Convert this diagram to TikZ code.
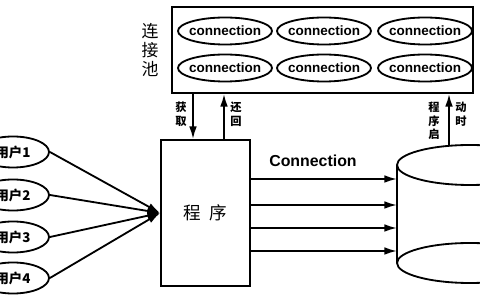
\documentclass[tikz,border=0pt]{standalone}
\usepackage{fontspec}
\setmainfont{Liberation Sans}
\newfontfamily\cjk{Noto Sans CJK SC}
\usetikzlibrary{arrows.meta,shapes.geometric}

\begin{document}
\begin{tikzpicture}[
  x=0.025cm, y=-0.025cm,
  linea/.style={line width=1.3pt},
  flecha/.style={linea, -{Latex[length=9pt,width=5.5pt]}},
  conexion/.style={draw, linea, ellipse, inner sep=0pt, inner xsep=-8pt, minimum width=2.35cm, minimum height=0.675cm, font=\bfseries\fontsize{9.6}{10}\selectfont},
  usuario/.style={draw, linea, ellipse, inner sep=0pt, minimum width=1.8cm, minimum height=0.775cm, font=\cjk\bfseries\fontsize{9.5}{10}\selectfont},
  rotulo/.style={font=\cjk\bfseries\fontsize{8}{9.8}\selectfont, align=center, inner sep=0pt},
]
  \useasboundingbox (0,0) rectangle (480,300);
  \clip (0,0) rectangle (480,300);

  % Pool de conexiones
  \node[draw, linea, minimum width=7.525cm, minimum height=2.15cm] (pool) at (322.5,50) {};
  \foreach \x/\n in {225/1,324/2,425/3} {
    \node[conexion] (c\n) at (\x,31) {connection};
    \node[conexion] (d\n) at (\x,68) {connection};
  }
  \node[font=\cjk\fontsize{12}{13.5}\selectfont, align=center, inner sep=0pt] (poolrot) at (150,50) {连\\接\\池};

  % Programa
  \node[draw, linea, minimum width=2.225cm, minimum height=3.65cm, font=\cjk\fontsize{12.5}{14}\selectfont] (prog) at (205.5,213) {程\,\,\,序};

  % Usuarios
  \foreach \y/\n in {152/1,195/2,237/3,278/4} {
    \node[usuario] (u\n) at (13,\y) {用户\n};
    \draw[flecha] (u\n.east) -- (prog.west);
  }

  % Obtener / devolver
  \coordinate (obt) at (193,93);
  \coordinate (dev) at (224,140);
  \draw[flecha] (obt) -- (obt |- prog.north);
  \draw[flecha] (dev) -- (dev |- pool.south);
  \node[rotulo] (obtrot) at (181,114) {获\\取};
  \node[rotulo] (devrot) at (236,114) {还\\回};

  % Base de datos
  \draw[linea] (470,165) ellipse [x radius=73, y radius=20];
  \draw[linea] (470,263) ellipse [x radius=73, y radius=20];
  \draw[linea] (397,165) -- (397,263);
  \draw[linea] (543,165) -- (543,263);
  \coordinate (dbtop) at (449,146);
  \draw[flecha] (dbtop) -- (dbtop |- pool.south);
  \node[rotulo] (inirot) at (434,121) {程\\序\\启};
  \node[rotulo] (timrot) at (461,114) {动\\时};

  % Conexiones hacia la base
  \foreach \y/\n in {179/1,205/2,228/3,251/4} {
    \coordinate (db\n) at (397,\y);
    \draw[flecha] (prog.east |- db\n) -- (db\n);
  }
  \node[font=\bfseries\fontsize{11.3}{13}\selectfont] (conrot) at (313,161) {Connection};
\end{tikzpicture}
\end{document}
